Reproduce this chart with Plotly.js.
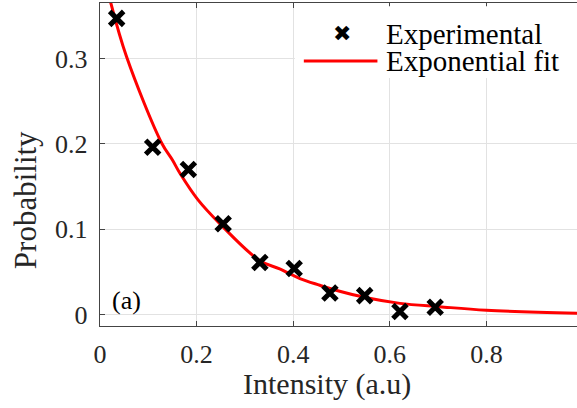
<!DOCTYPE html>
<html>
<head>
<meta charset="utf-8">
<script src="https://cdn.plot.ly/plotly-3.0.1.min.js"></script>
<style>
html,body{margin:0;padding:0;overflow:hidden;background:#fff;}
#chart{width:600px;height:408px;}
</style>
</head>
<body>
<div id="chart"></div>
<script>
// Experimental points
const intensityExp = [0.0345, 0.109, 0.183, 0.255, 0.331, 0.402, 0.476, 0.548, 0.621, 0.694];
const probabilityExp = [0.347, 0.196, 0.170, 0.1065, 0.061, 0.054, 0.0253, 0.0222, 0.0035, 0.0086];

// Exponential fit curve
const intensityFit = [0.021, 0.055, 0.1276, 0.150, 0.1655, 0.2034, 0.248, 0.331, 0.372, 0.414, 0.455, 0.483, 0.552, 0.621, 0.703, 0.80, 1.0];
const probabilityFit = [0.368, 0.302, 0.201, 0.181, 0.1655, 0.134, 0.1065, 0.063, 0.0535, 0.0422, 0.0343, 0.0293, 0.0196, 0.0131, 0.0092, 0.0051, 0.0013];

const xTickVals = [0, 0.2, 0.4, 0.6, 0.8, 1];
const xTickText = ['0', '0.2', '0.4', '0.6', '0.8', '1'];
const yTickVals = [0, 0.1, 0.2, 0.3];
const yTickText = ['0', '0.1', '0.2', '0.3'];

const legendLabels = ['Experimental', 'Exponential fit'];
const xTitle = 'Intensity (a.u)';
const yTitle = 'Probability';
const panelLabel = '(a)';

const serif = '"Liberation Serif", "Times New Roman", serif';
const txt = '#262626';

const traces = [
  {
    x: intensityFit, y: probabilityFit, type: 'scatter', mode: 'lines',
    name: legendLabels[1],
    line: {color: '#ff0000', width: 3, shape: 'spline', smoothing: 1},
    hoverinfo: 'skip', showlegend: false, cliponaxis: true
  },
  {
    x: intensityExp, y: probabilityExp, type: 'scatter', mode: 'markers',
    name: legendLabels[0],
    marker: {symbol: 'x-thin-open', size: 14, color: '#000', line: {color: '#000', width: 5}},
    showlegend: false, cliponaxis: false
  }
];

const layout = {
  width: 600, height: 408,
  margin: {l: 100, r: 17, t: 3, b: 82, pad: 0},
  paper_bgcolor: '#fff', plot_bgcolor: '#fff',
  showlegend: false,
  font: {family: serif, color: txt, size: 26},
  xaxis: {
    range: [0, 1], tickvals: xTickVals, ticktext: xTickText,
    showgrid: true, gridcolor: '#e2e2e2', gridwidth: 1,
    zeroline: false, showline: true, linecolor: '#444', linewidth: 1.3,
    mirror: 'ticks', ticks: 'inside', ticklen: 5, tickcolor: '#444', tickwidth: 1.3,
    tickfont: {family: serif, size: 26, color: txt}, ticklabelstandoff: 4
  },
  yaxis: {
    range: [-0.0134, 0.365], tickvals: yTickVals, ticktext: yTickText,
    showgrid: true, gridcolor: '#e2e2e2', gridwidth: 1,
    zeroline: false, showline: true, linecolor: '#444', linewidth: 1.3,
    mirror: 'ticks', ticks: 'inside', ticklen: 5, tickcolor: '#444', tickwidth: 1.3,
    tickfont: {family: serif, size: 26, color: txt}, ticklabelstandoff: 6
  },
  shapes: [
    {type: 'rect', xref: 'paper', yref: 'paper', x0: 0.4035, x1: 1.0, y0: 0.7675, y1: 0.99,
     fillcolor: '#fff', line: {width: 0}, layer: 'above'},
    {type: 'line', xref: 'paper', yref: 'paper', x0: 0.422, x1: 0.5744, y0: 0.8203, y1: 0.8203,
     line: {color: '#ff0000', width: 3}, layer: 'above'}
  ],
  annotations: [
    {text: '\u2716', xref: 'paper', yref: 'paper', x: 0.5001, y: 0.9061, xanchor: 'center', yanchor: 'middle',
     showarrow: false, font: {family: 'DejaVu Sans', size: 22, color: '#000'}},
    {text: legendLabels[0], xref: 'paper', yref: 'paper', x: 0.5876, y: 0.904, xanchor: 'left', yanchor: 'middle',
     showarrow: false, font: {family: serif, size: 29, color: '#000'}},
    {text: legendLabels[1], xref: 'paper', yref: 'paper', x: 0.5876, y: 0.8203, xanchor: 'left', yanchor: 'middle',
     showarrow: false, font: {family: serif, size: 29, color: '#000'}},
    {text: panelLabel, xref: 'paper', yref: 'paper', x: 0.0207, y: 0.0796, xanchor: 'left', yanchor: 'middle',
     showarrow: false, font: {family: serif, size: 26, color: '#000'}},
    {text: xTitle, xref: 'paper', yref: 'paper', x: 0.469, y: -0.1794, xanchor: 'center', yanchor: 'middle',
     height: 34, showarrow: false, font: {family: serif, size: 30, color: txt}},
    {text: yTitle, xref: 'paper', yref: 'paper', x: -0.155, y: 0.39, xanchor: 'center', yanchor: 'middle',
     textangle: -90, showarrow: false, font: {family: serif, size: 31, color: txt}}
  ]
};

Plotly.newPlot('chart', traces, layout, {displayModeBar: false, staticPlot: true});
</script>
</body>
</html>
